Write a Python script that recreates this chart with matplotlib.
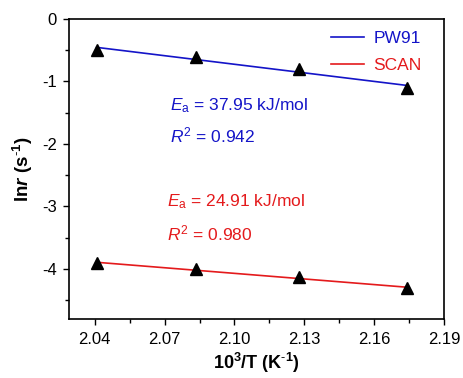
import numpy as np
import matplotlib
matplotlib.use("Agg")
import matplotlib.pyplot as plt

plt.rcParams['font.family'] = ['Liberation Sans', 'DejaVu Sans']
plt.rcParams['font.size'] = 12
plt.rcParams['mathtext.fontset'] = 'custom'
plt.rcParams['mathtext.rm'] = 'Liberation Sans'
plt.rcParams['mathtext.it'] = 'Liberation Sans:italic'
plt.rcParams['mathtext.bf'] = 'Liberation Sans:bold'
plt.rcParams['mathtext.bfit'] = 'Liberation Sans:italic:bold'

# inverse temperature (10^3/T) and ln r values
inv_T = [2.0408, 2.0833, 2.1277, 2.1739]
lnr_pw91 = [-0.50, -0.61, -0.80, -1.11]
lnr_scan = [-3.91, -4.005, -4.13, -4.31]
series_names = ["PW91", "SCAN"]
ea_values = ["37.95", "24.91"]
r2_values = ["0.942", "0.980"]

blue = '#1414C8'
red = '#E41A1C'

fig = plt.figure(figsize=(4.64, 3.78), dpi=100)
ax = fig.add_axes([0.149, 0.156, 0.808, 0.794])

x = np.array(inv_T)
for ys, name, col in zip([lnr_pw91, lnr_scan], series_names, [blue, red]):
    k, b = np.polyfit(x, ys, 1)
    ax.plot(x, k * x + b, color=col, lw=1.2, label=name, zorder=2)
    ax.plot(x, ys, ls='none', marker='^', color='black', ms=8, zorder=3)

# annotations
fs_ann = 12.5
ax.text(2.0725, -1.38, r'$E_{\mathrm{a}}$ = ' + ea_values[0] + ' kJ/mol', color=blue, va='center', fontsize=fs_ann)
ax.text(2.0725, -1.87, r'$R^2$ = ' + r2_values[0], color=blue, va='center', fontsize=fs_ann)
ax.text(2.0712, -2.93, r'$E_{\mathrm{a}}$ = ' + ea_values[1] + ' kJ/mol', color=red, va='center', fontsize=fs_ann)
ax.text(2.0712, -3.43, r'$R^2$ = ' + r2_values[1], color=red, va='center', fontsize=fs_ann)

leg = ax.legend(loc='upper right', bbox_to_anchor=(0.972, 1.0), frameon=False,
                handlelength=1.9, handletextpad=0.5, borderaxespad=0.3,
                labelspacing=0.65, fontsize=12.5)
for txt, col in zip(leg.get_texts(), [blue, red]):
    txt.set_color(col)

ax.set_xlim(2.029, 2.19)
ax.set_ylim(-4.8, 0)
ax.set_xticks([2.04, 2.07, 2.10, 2.13, 2.16, 2.19])
ax.set_xticklabels(["2.04", "2.07", "2.10", "2.13", "2.16", "2.19"])
ax.set_xticks(np.arange(2.055, 2.19, 0.03), minor=True)
ax.set_yticks([0, -1, -2, -3, -4])
ax.set_yticklabels(["0", "-1", "-2", "-3", "-4"])
ax.set_yticks([-0.5, -1.5, -2.5, -3.5, -4.5], minor=True)
ax.tick_params(which='both', direction='out', width=1.0)
ax.tick_params(which='major', length=4, pad=5)
ax.tick_params(which='minor', length=3)
for s in ax.spines.values():
    s.set_linewidth(1.2)

ax.set_xlabel(r'10$^{\mathbf{3}}$/T (K$^{\mathbf{\text{-}1}}$)', fontweight='bold', fontsize=13, labelpad=3)
ax.set_ylabel(r'ln$\boldsymbol{r}$ (s$^{\mathbf{\text{-}1}}$)', fontweight='bold', fontsize=13.5, labelpad=5)

plt.savefig("out.png", dpi=100)
plt.close()
